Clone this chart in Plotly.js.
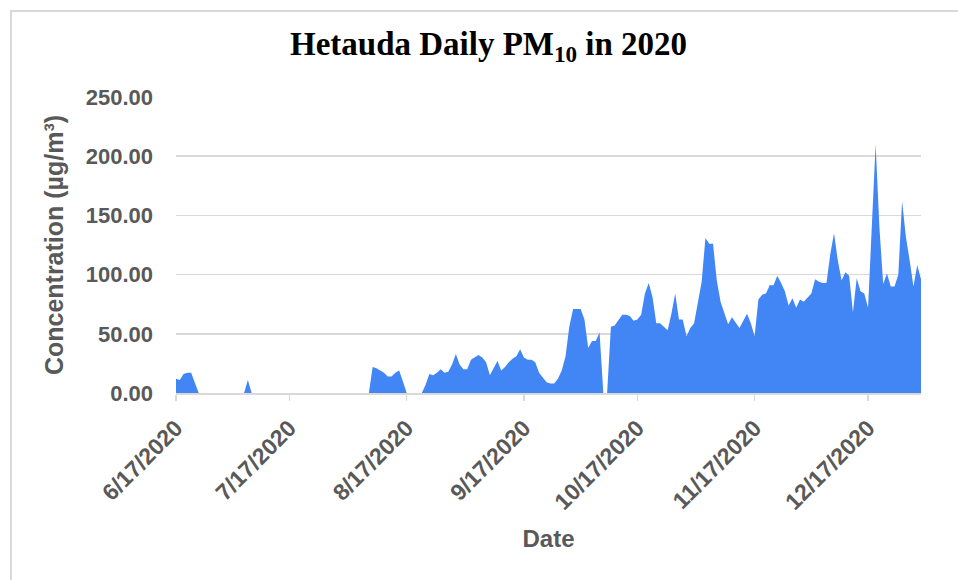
<!DOCTYPE html>
<html>
<head>
<meta charset="utf-8">
<script src="https://cdn.plot.ly/plotly-3.0.1.min.js"></script>
<style>
  html, body { margin: 0; padding: 0; background: #ffffff; overflow: hidden; }
  #frame { position: absolute; left: 10px; top: 10px; width: 960px; height: 580px; border: 2px solid #d9d9d9; box-sizing: border-box; }
  #chart { position: absolute; left: 0; top: 0; width: 958px; height: 580px; }
</style>
</head>
<body>
<div id="frame"></div>
<div id="chart"></div>
<script>
// Daily PM10 concentrations (µg/m³), 6/17/2020 .. 12/31/2020 (one value per day; 0 = no data)
const startDate = '2020-06-17';
const pm10 = [
  12, 11, 16, 17, 17, 8,                               // 6/17 - 6/22
  0, 0, 0, 0, 0, 0, 0, 0, 0, 0, 0, 0, 0,               // 6/23 - 7/5
  11,                                                  // 7/6
  0, 0, 0, 0, 0, 0, 0, 0, 0, 0, 0, 0, 0, 0, 0, 0,
  0, 0, 0, 0, 0, 0, 0, 0, 0, 0, 0, 0, 0, 0, 0, 0,      // 7/7 - 8/7
  22, 21, 19, 17, 14, 14, 17, 19, 10,                  // 8/8 - 8/16
  0, 0, 0, 0, 0,                                       // 8/17 - 8/21
  7, 16, 15, 17, 20, 17, 18, 24, 33, 24,               // 8/22 - 8/31
  20, 20, 28, 30, 32, 30, 26, 15, 21, 27,              // 9/1 - 9/10
  19, 22, 26, 29, 31, 37, 30, 28, 28, 26,              // 9/11 - 9/20
  17, 13, 9, 8, 8, 12, 19, 31, 56, 71,                 // 9/21 - 9/30
  71, 71, 62, 38, 44, 44, 51, 0, 0, 56,                // 10/1 - 10/10
  57, 61, 66, 66, 65, 61, 62, 66, 84, 93,              // 10/11 - 10/20
  81, 59, 59, 56, 53, 67, 84, 62, 62, 48, 55,          // 10/21 - 10/31
  59, 76, 94, 131, 126, 126, 95, 77, 67, 58,           // 11/1 - 11/10
  64, 59, 55, 61, 67, 59, 48, 79, 83, 84,              // 11/11 - 11/20
  91, 91, 99, 93, 86, 74, 80, 72, 79, 77,              // 11/21 - 11/30
  81, 84, 96, 94, 93, 93, 117, 135, 112, 95,           // 12/1 - 12/10
  102, 99, 68, 97, 86, 84, 72, 145, 210, 140,          // 12/11 - 12/20
  92, 101, 90, 90, 100, 162, 132, 112, 90, 108, 96     // 12/21 - 12/31
];
const tickDates = ['2020-06-17','2020-07-17','2020-08-17','2020-09-17','2020-10-17','2020-11-17','2020-12-17'];
const tickLabels = ['6/17/2020','7/17/2020','8/17/2020','9/17/2020','10/17/2020','11/17/2020','12/17/2020'];

// consecutive daily dates for the category axis
const dates = [];
const d0 = new Date(startDate + 'T00:00:00Z');
for (let i = 0; i < pm10.length; i++) {
  const d = new Date(d0.getTime() + i * 86400000);
  dates.push(d.toISOString().slice(0, 10));
}

const trace = {
  x: dates,
  y: pm10,
  type: 'scatter',
  mode: 'lines',
  fill: 'tozeroy',
  fillcolor: '#4285f4',
  line: { color: '#4285f4', width: 0 },
  hoverinfo: 'x+y'
};

const sans = 'Liberation Sans, Arial, sans-serif';

const layout = {
  width: 958,
  height: 580,
  paper_bgcolor: 'rgba(0,0,0,0)',
  plot_bgcolor: 'rgba(0,0,0,0)',
  margin: { l: 176, r: 37, t: 97, b: 187 },
  showlegend: false,
  title: {
    text: '<b>Hetauda Daily PM<sub>10</sub> in 2020</b>',
    font: { family: 'Liberation Serif, Times New Roman, serif', size: 33, color: '#000000' },
    x: 0.51, xanchor: 'center', y: 0.925, yanchor: 'middle'
  },
  xaxis: {
    type: 'date',
    range: [dates[0], dates[dates.length - 1]],
    tickmode: 'array',
    tickvals: tickDates,
    ticktext: tickLabels,
    tickangle: -45,
    tickfont: { family: sans, size: 23, color: '#595959', weight: 'bold' },
    ticks: 'outside',
    ticklen: 6,
    tickwidth: 1.5,
    tickcolor: '#d9d9d9',
    ticklabelstandoff: 5,
    showline: true,
    linecolor: '#d9d9d9',
    linewidth: 1.5,
    showgrid: false,
    zeroline: false,
    title: { text: '<b>Date</b>', font: { family: sans, size: 24, color: '#595959' }, standoff: 16 }
  },
  yaxis: {
    range: [0, 250],
    tickmode: 'linear',
    tick0: 0,
    dtick: 50,
    tickformat: '.2f',
    tickfont: { family: sans, size: 22, color: '#595959', weight: 'bold' },
    ticks: '',
    ticklabelstandoff: 22,
    showgrid: true,
    gridcolor: '#d9d9d9',
    gridwidth: 1.5,
    zeroline: false,
    showline: false,
    title: { text: '<b>Concentration (µg/m³)</b>', font: { family: sans, size: 25, color: '#595959' }, standoff: 14 }
  }
};

Plotly.newPlot('chart', [trace], layout, { displayModeBar: false, staticPlot: true });
</script>
</body>
</html>
